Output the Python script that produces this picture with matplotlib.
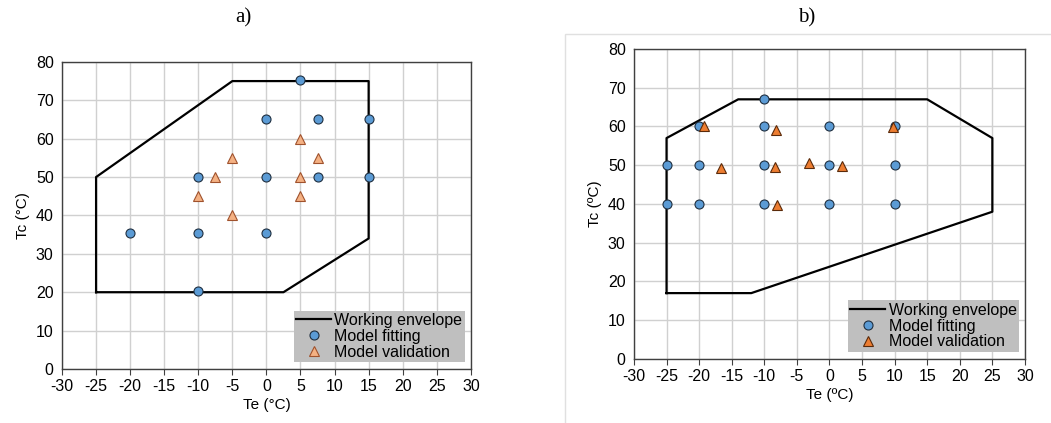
import matplotlib
matplotlib.use("Agg")
import matplotlib.pyplot as plt
from matplotlib.patches import Rectangle

plt.rcParams['font.family'] = ['Liberation Sans', 'DejaVu Sans']

# panel a) data
env_a_x = [-25, -25, -5, 15, 15, 2.5, -25]
env_a_y = [20, 50, 75, 75, 34, 20, 20]
fit_a_x = [5, 0, 7.5, 15, -10, 0, 7.5, 15, -20, -10, 0, -10]
fit_a_y = [75.3, 65, 65, 65, 50, 50, 50, 50, 35.3, 35.3, 35.3, 20.3]
val_a_x = [5, -5, 7.5, -7.5, 5, -10, 5, -5]
val_a_y = [60, 55, 55, 50, 50, 45, 45, 40]

# panel b) data
env_b_x = [-25, -25, -14, 15, 25, 25, -12, -25]
env_b_y = [17, 57, 67, 67, 57, 38, 17, 17]
fit_b_x = [-10, -20, -10, 0, 10, -25, -20, -10, 0, 10, -25, -20, -10, 0, 10]
fit_b_y = [67, 60, 60, 60, 60, 50, 50, 50, 50, 50, 40, 40, 40, 40, 40]
val_b_x = [-19.2, -8.2, -16.6, -8.3, -3.1, 2.0, -8.1, 9.8]
val_b_y = [60.1, 59.1, 49.4, 49.6, 50.6, 49.9, 39.8, 59.8]

xticks = list(range(-30, 31, 5))
yticks = list(range(0, 81, 10))

BLUE = '#5B9BD5'
GRID = '#d0d0d0'
FS = 11.5

fig = plt.figure(figsize=(10.51, 4.23), dpi=100)
ax_a = fig.add_axes([0.059, 0.1277, 0.389, 0.726])
ax_b = fig.add_axes([0.6032, 0.1513, 0.372, 0.733])


def style(ax, xlabel, ylabel):
    ax.set_xlim(-30, 30)
    ax.set_ylim(0, 80)
    ax.set_xticks(xticks)
    ax.set_yticks(yticks)
    ax.set_xticklabels([str(t) for t in xticks], fontsize=FS)
    ax.set_yticklabels([str(t) for t in yticks], fontsize=FS)
    ax.grid(True, color=GRID, lw=1)
    ax.set_axisbelow(True)
    ax.tick_params(axis='x', direction='out', length=4, color='#404040', pad=3)
    ax.tick_params(axis='y', length=0, pad=6)
    for s in ax.spines.values():
        s.set_color('#404040')
        s.set_linewidth(1)
    ax.set_xlabel(xlabel, fontsize=11, labelpad=3)
    ax.set_ylabel(ylabel, fontsize=11, labelpad=4)


def legend(ax):
    lg = ax.legend(loc='lower right', bbox_to_anchor=(0.985, 0.023), fontsize=11.5,
                   frameon=True, facecolor='#bfbfbf', edgecolor='none', framealpha=1,
                   fancybox=False, borderpad=0.15, labelspacing=0.05, handlelength=2.2,
                   handletextpad=0.2, borderaxespad=0)
    return lg


# a)
ax_a.plot(env_a_x, env_a_y, color='black', lw=1.6, label='Working envelope', zorder=3)
ax_a.plot(fit_a_x, fit_a_y, ls='none', marker='o', ms=6.5, mfc=BLUE, mec='#1f2f40',
          mew=0.8, label='Model fitting', zorder=4)
ax_a.plot(val_a_x, val_a_y, ls='none', marker='^', ms=7, mfc='#F4B183', mec='#a0522d',
          mew=0.8, label='Model validation', zorder=4)
style(ax_a, 'Te (°C)', 'Tc (°C)')
legend(ax_a)
fig.text(243 / 1051, 1 - 18 / 423, 'a)', fontsize=15, family='Liberation Serif',
         ha='center', va='center')

# b)
ax_b.plot(env_b_x, env_b_y, color='black', lw=1.6, label='Working envelope', zorder=3)
ax_b.plot(fit_b_x, fit_b_y, ls='none', marker='o', ms=6.5, mfc=BLUE, mec='#1f2f40',
          mew=0.8, label='Model fitting', zorder=4)
ax_b.plot(val_b_x, val_b_y, ls='none', marker='^', ms=7, mfc='#ED7D31', mec='#5a2a0a',
          mew=0.8, label='Model validation', zorder=4)
style(ax_b, 'Te (ºC)', 'Tc (ºC)')
legend(ax_b)
fig.text(807 / 1051, 1 - 18 / 423, 'b)', fontsize=15, family='Liberation Serif',
         ha='center', va='center')

# thin frame around panel b
fig.patches.append(Rectangle((565 / 1051, -0.01), 0.47, 1 - 34 / 423 + 0.01,
                             transform=fig.transFigure, fill=False,
                             edgecolor='#e0e0e0', lw=1))

fig.savefig('out.png', dpi=100)
